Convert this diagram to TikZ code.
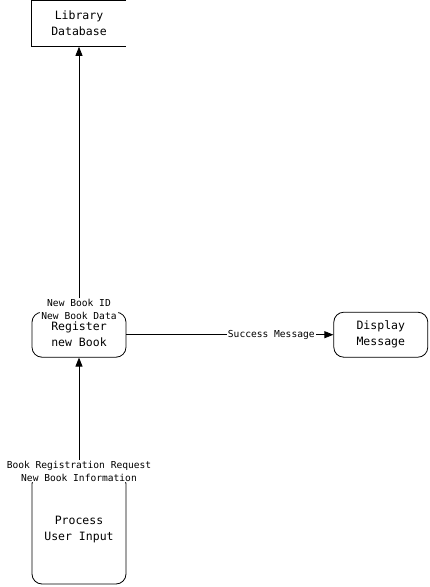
\documentclass[tikz,border=0pt]{standalone}
\usepackage{fontspec}
\setmonofont{DejaVu Sans Mono}
\usetikzlibrary{shapes.geometric, arrows.meta, positioning}
\tikzstyle{process} = [rectangle, rounded corners=10pt, minimum width=94pt, minimum height=45pt, text centered, align=center, draw=black, line width=0.8pt, font=\ttfamily\fontsize{11.5}{16}\selectfont]
\tikzstyle{store} = [rectangle, minimum width=94pt, minimum height=46pt, text centered, align=center, font=\ttfamily\fontsize{11.5}{16}\selectfont]
\tikzstyle{flowlabel} = [fill=white, inner sep=1pt, align=center, font=\ttfamily\fontsize{9.6}{13}\selectfont]
\tikzstyle{arrow} = [line width=0.8pt, -{Triangle[length=9pt, width=7pt]}]

\begin{document}
\begin{tikzpicture}
    \useasboundingbox (0pt,0pt) rectangle (429pt,-587pt);

    % Nodes
    \node (input) [process, minimum height=110pt] at (79pt,-529pt) {Process\\User Input};
    \node (register) [process, above=116pt of input] {Register\\new Book};
    \node (database) [store, above=265pt of register] {Library\\Database};
    \node (display) [process, right=207pt of register] {Display\\Message};
    \draw [line width=0.8pt] (database.north east) -- (database.north west) -- (database.south west) -- (database.south east);

    % Labels
    \node (inputlabel) [flowlabel, yshift=2.5pt] at (input.north) {Book Registration Request\\New Book Information};
    \node (registerlabel) [flowlabel, yshift=2pt] at (register.north) {New Book ID\\New Book Data};

    % Arrows
    \draw [arrow] (inputlabel) -- (register);
    \draw [arrow] (registerlabel) -- (database);
    \draw [arrow] (register) -- node[flowlabel, pos=0.7] {Success Message} (display);
\end{tikzpicture}
\end{document}
